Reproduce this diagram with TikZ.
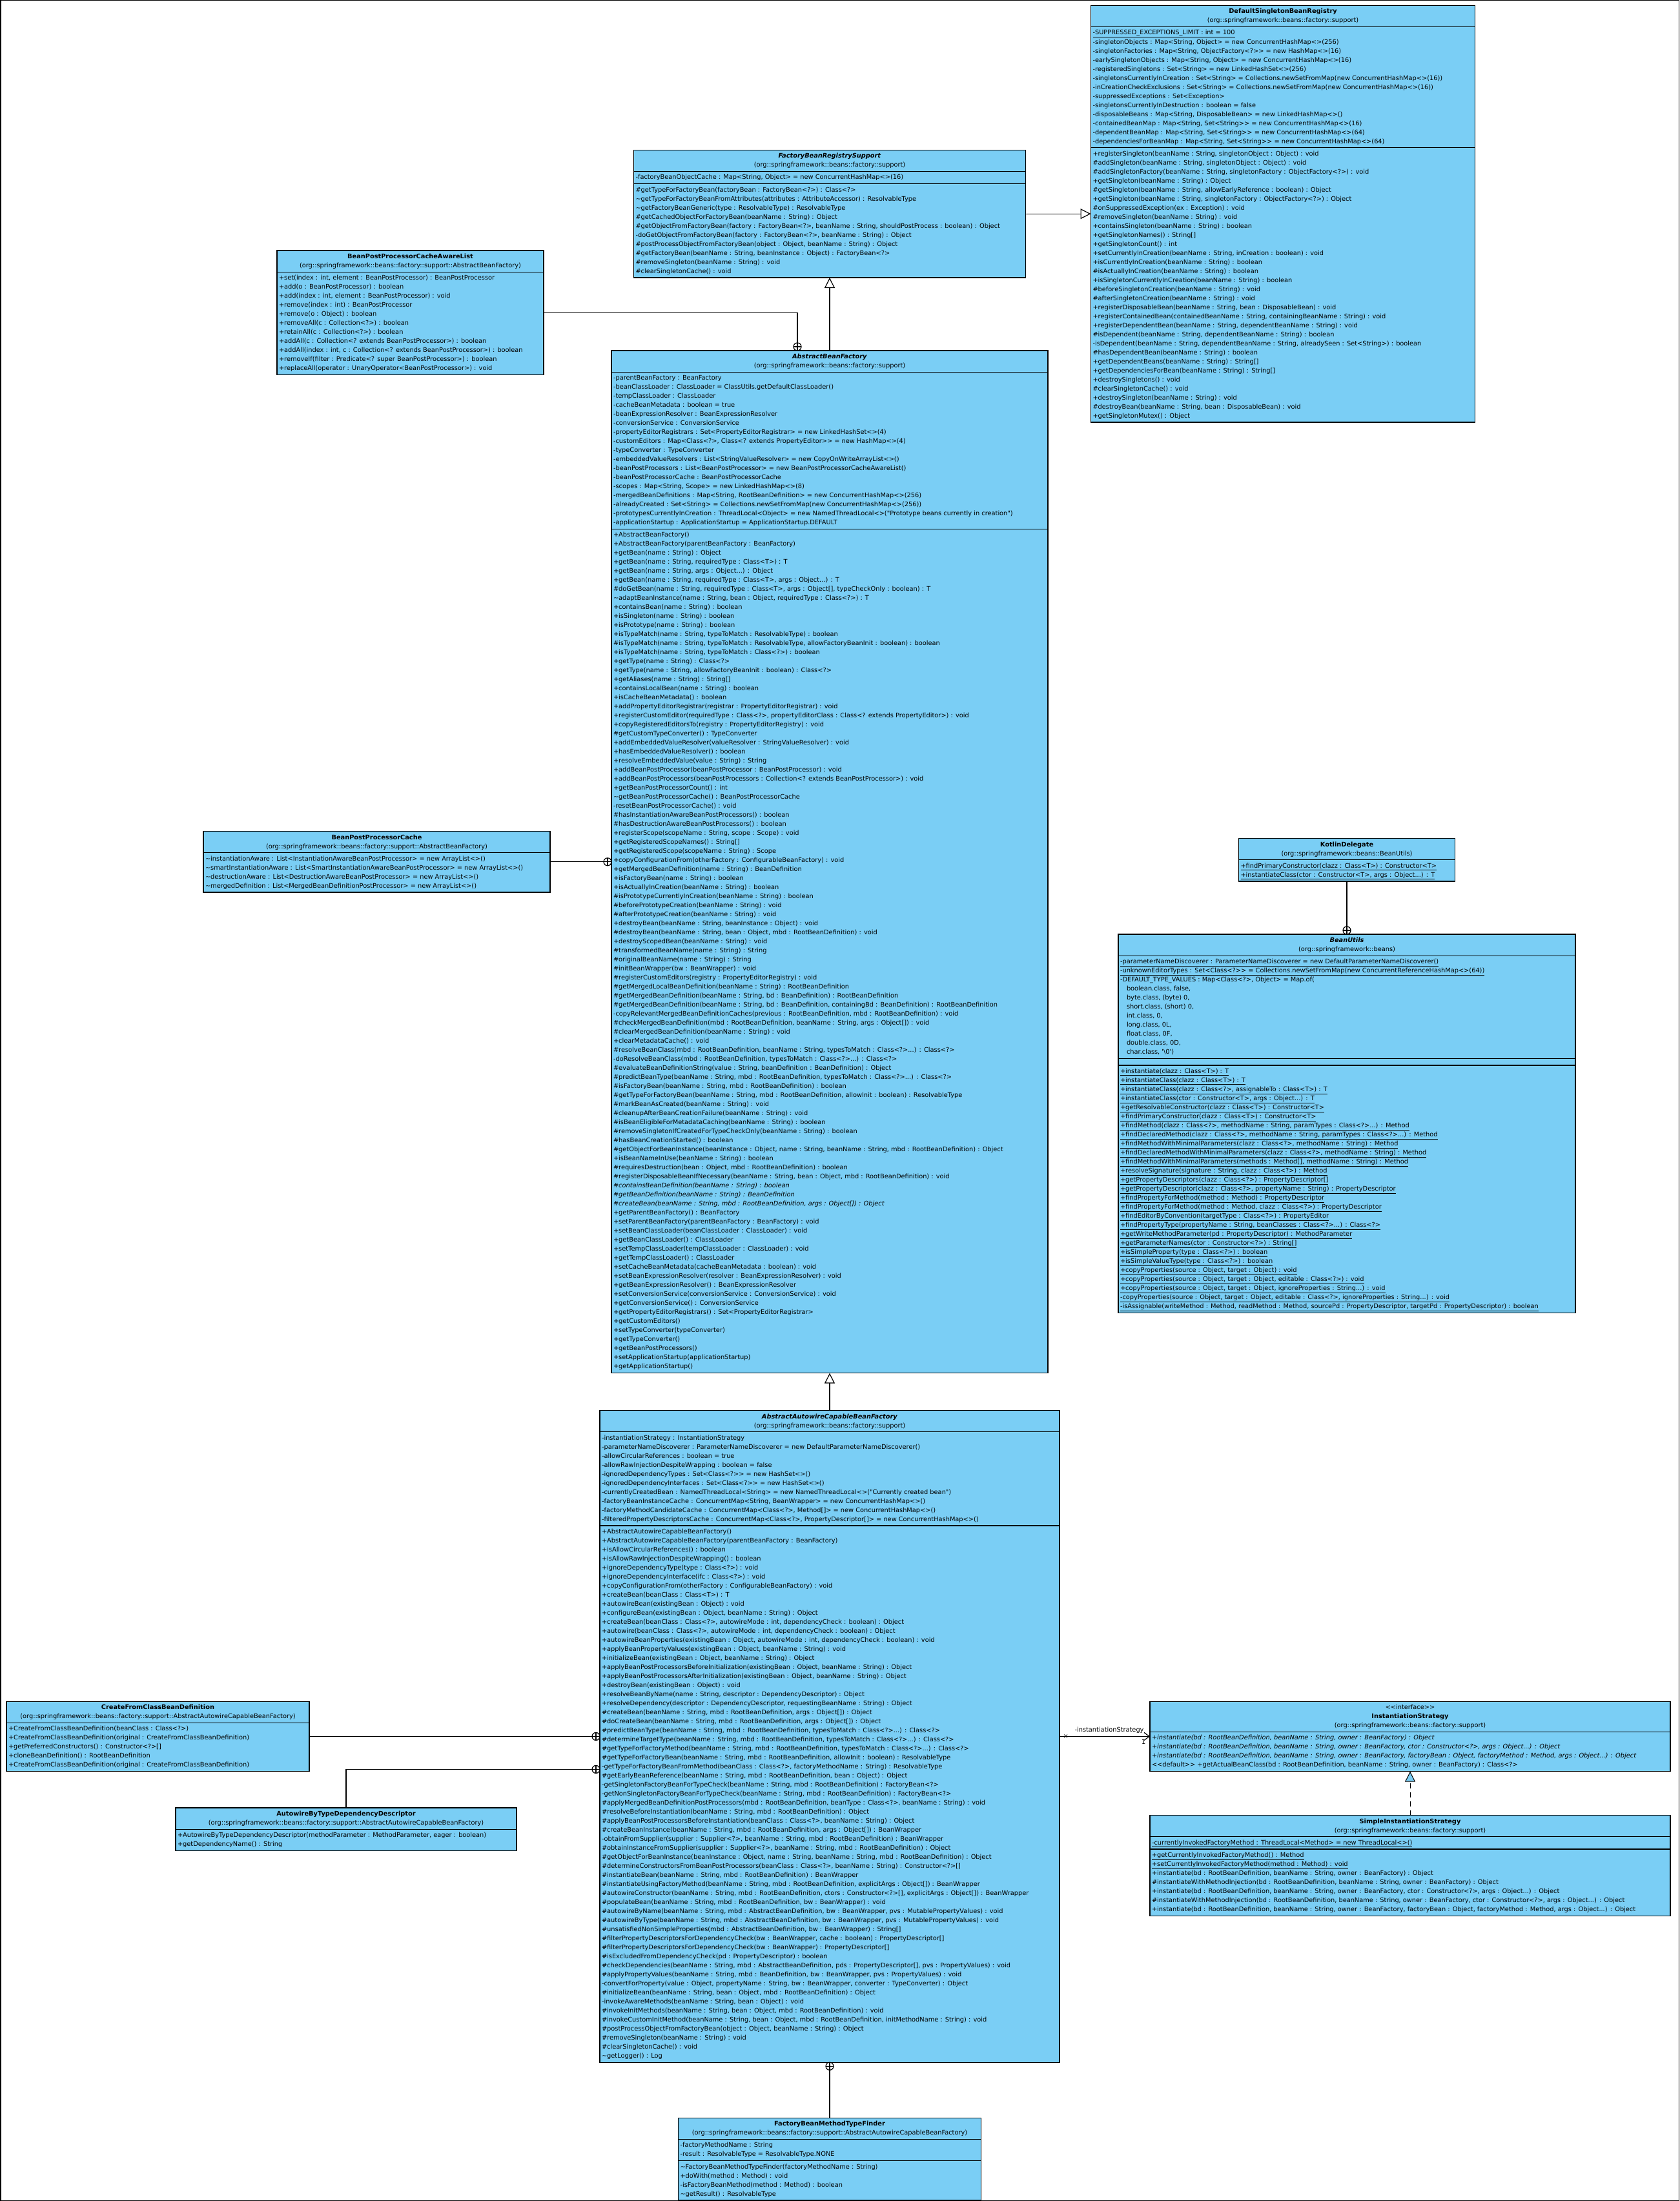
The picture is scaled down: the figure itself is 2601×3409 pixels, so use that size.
\documentclass[tikz,border=0pt]{standalone}
\usepackage{fontspec}
\setmainfont{DejaVu Sans}[Ligatures=TeXOff]
\usetikzlibrary{arrows.meta, positioning, shapes.multipart, decorations.markings}

\definecolor{classblue}{RGB}{122,206,245}

\newcommand{\classhead}[2]{\begin{tabular}{@{}c@{}}#1\\#2\end{tabular}}
\newcommand{\members}[1]{\begin{tabular}{@{}l@{}}#1\end{tabular}}

\begin{document}
\begin{tikzpicture}[
    x=1pt, y=-1pt,
    font=\fontsize{9.8}{14}\selectfont,
    classst/.style={rectangle split, rectangle split parts=3,
                    rectangle split part align={center,left,left,left},
                    rectangle split empty part height=0pt,
                    rectangle split empty part depth=0pt,
                    draw=black, line width=1.2pt, fill=classblue,
                    inner xsep=3pt, inner ysep=2pt, outer sep=0pt},
    twost/.style={classst, rectangle split parts=2},
    genarr/.style={line width=1.2pt, -{Triangle[length=16pt, width=16pt, fill=white]}},
    realarr/.style={line width=1pt, dash pattern=on 8pt off 6pt,
                    -{Triangle[length=16pt, width=16pt, fill=classblue]}},
    assocarr/.style={line width=1.2pt, -{Straight Barb[length=8pt, width=12pt]}},
    nestarr/.style={line width=1.2pt, postaction={decorate, decoration={markings,
        mark=at position 1 with {\draw[line width=1.2pt, fill=white] (-6pt,0) circle (6pt);
                                 \draw[line width=1.2pt] (-12pt,0) -- (0pt,0) (-6pt,-6pt) -- (-6pt,6pt);}}}},
  ]
  \useasboundingbox (0,0) rectangle (2601,3409);
  \draw[line width=1.5pt] (0.75,0.75) rectangle (2600.25,3408.25);

  %% Centre column
  \node[classst, minimum width=676pt, anchor=north west] (absfactory) at (947,543) {%
    \classhead{\textbf{\textit{AbstractBeanFactory}}}{(org::springframework::beans::factory::support)}
    \nodepart{two}\members{%
      -parentBeanFactory : BeanFactory\\
      -beanClassLoader : ClassLoader = ClassUtils.getDefaultClassLoader()\\
      -tempClassLoader : ClassLoader\\
      -cacheBeanMetadata : boolean = true\\
      -beanExpressionResolver : BeanExpressionResolver\\
      -conversionService : ConversionService\\
      -propertyEditorRegistrars : Set<PropertyEditorRegistrar> = new LinkedHashSet<>(4)\\
      -customEditors : Map<Class<?>, Class<? extends PropertyEditor>> = new HashMap<>(4)\\
      -typeConverter : TypeConverter\\
      -embeddedValueResolvers : List<StringValueResolver> = new CopyOnWriteArrayList<>()\\
      -beanPostProcessors : List<BeanPostProcessor> = new BeanPostProcessorCacheAwareList()\\
      -beanPostProcessorCache : BeanPostProcessorCache\\
      -scopes : Map<String, Scope> = new LinkedHashMap<>(8)\\
      -mergedBeanDefinitions : Map<String, RootBeanDefinition> = new ConcurrentHashMap<>(256)\\
      -alreadyCreated : Set<String> = Collections.newSetFromMap(new ConcurrentHashMap<>(256))\\
      -prototypesCurrentlyInCreation : ThreadLocal<Object> = new NamedThreadLocal<>("Prototype beans currently in creation")\\
      -applicationStartup : ApplicationStartup = ApplicationStartup.DEFAULT}
    \nodepart{three}\members{%
      +AbstractBeanFactory()\\
      +AbstractBeanFactory(parentBeanFactory : BeanFactory)\\
      +getBean(name : String) : Object\\
      +getBean(name : String, requiredType : Class<T>) : T\\
      +getBean(name : String, args : Object...) : Object\\
      +getBean(name : String, requiredType : Class<T>, args : Object...) : T\\
      \#doGetBean(name : String, requiredType : Class<T>, args : Object[], typeCheckOnly : boolean) : T\\
      \textasciitilde adaptBeanInstance(name : String, bean : Object, requiredType : Class<?>) : T\\
      +containsBean(name : String) : boolean\\
      +isSingleton(name : String) : boolean\\
      +isPrototype(name : String) : boolean\\
      +isTypeMatch(name : String, typeToMatch : ResolvableType) : boolean\\
      \#isTypeMatch(name : String, typeToMatch : ResolvableType, allowFactoryBeanInit : boolean) : boolean\\
      +isTypeMatch(name : String, typeToMatch : Class<?>) : boolean\\
      +getType(name : String) : Class<?>\\
      +getType(name : String, allowFactoryBeanInit : boolean) : Class<?>\\
      +getAliases(name : String) : String[]\\
      +containsLocalBean(name : String) : boolean\\
      +isCacheBeanMetadata() : boolean\\
      +addPropertyEditorRegistrar(registrar : PropertyEditorRegistrar) : void\\
      +registerCustomEditor(requiredType : Class<?>, propertyEditorClass : Class<? extends PropertyEditor>) : void\\
      +copyRegisteredEditorsTo(registry : PropertyEditorRegistry) : void\\
      \#getCustomTypeConverter() : TypeConverter\\
      +addEmbeddedValueResolver(valueResolver : StringValueResolver) : void\\
      +hasEmbeddedValueResolver() : boolean\\
      +resolveEmbeddedValue(value : String) : String\\
      +addBeanPostProcessor(beanPostProcessor : BeanPostProcessor) : void\\
      +addBeanPostProcessors(beanPostProcessors : Collection<? extends BeanPostProcessor>) : void\\
      +getBeanPostProcessorCount() : int\\
      \textasciitilde getBeanPostProcessorCache() : BeanPostProcessorCache\\
      -resetBeanPostProcessorCache() : void\\
      \#hasInstantiationAwareBeanPostProcessors() : boolean\\
      \#hasDestructionAwareBeanPostProcessors() : boolean\\
      +registerScope(scopeName : String, scope : Scope) : void\\
      +getRegisteredScopeNames() : String[]\\
      +getRegisteredScope(scopeName : String) : Scope\\
      +copyConfigurationFrom(otherFactory : ConfigurableBeanFactory) : void\\
      +getMergedBeanDefinition(name : String) : BeanDefinition\\
      +isFactoryBean(name : String) : boolean\\
      +isActuallyInCreation(beanName : String) : boolean\\
      \#isPrototypeCurrentlyInCreation(beanName : String) : boolean\\
      \#beforePrototypeCreation(beanName : String) : void\\
      \#afterPrototypeCreation(beanName : String) : void\\
      +destroyBean(beanName : String, beanInstance : Object) : void\\
      \#destroyBean(beanName : String, bean : Object, mbd : RootBeanDefinition) : void\\
      +destroyScopedBean(beanName : String) : void\\
      \#transformedBeanName(name : String) : String\\
      \#originalBeanName(name : String) : String\\
      \#initBeanWrapper(bw : BeanWrapper) : void\\
      \#registerCustomEditors(registry : PropertyEditorRegistry) : void\\
      \#getMergedLocalBeanDefinition(beanName : String) : RootBeanDefinition\\
      \#getMergedBeanDefinition(beanName : String, bd : BeanDefinition) : RootBeanDefinition\\
      \#getMergedBeanDefinition(beanName : String, bd : BeanDefinition, containingBd : BeanDefinition) : RootBeanDefinition\\
      -copyRelevantMergedBeanDefinitionCaches(previous : RootBeanDefinition, mbd : RootBeanDefinition) : void\\
      \#checkMergedBeanDefinition(mbd : RootBeanDefinition, beanName : String, args : Object[]) : void\\
      \#clearMergedBeanDefinition(beanName : String) : void\\
      +clearMetadataCache() : void\\
      \#resolveBeanClass(mbd : RootBeanDefinition, beanName : String, typesToMatch : Class<?>...) : Class<?>\\
      -doResolveBeanClass(mbd : RootBeanDefinition, typesToMatch : Class<?>...) : Class<?>\\
      \#evaluateBeanDefinitionString(value : String, beanDefinition : BeanDefinition) : Object\\
      \#predictBeanType(beanName : String, mbd : RootBeanDefinition, typesToMatch : Class<?>...) : Class<?>\\
      \#isFactoryBean(beanName : String, mbd : RootBeanDefinition) : boolean\\
      \#getTypeForFactoryBean(beanName : String, mbd : RootBeanDefinition, allowInit : boolean) : ResolvableType\\
      \#markBeanAsCreated(beanName : String) : void\\
      \#cleanupAfterBeanCreationFailure(beanName : String) : void\\
      \#isBeanEligibleForMetadataCaching(beanName : String) : boolean\\
      \#removeSingletonIfCreatedForTypeCheckOnly(beanName : String) : boolean\\
      \#hasBeanCreationStarted() : boolean\\
      \#getObjectForBeanInstance(beanInstance : Object, name : String, beanName : String, mbd : RootBeanDefinition) : Object\\
      +isBeanNameInUse(beanName : String) : boolean\\
      \#requiresDestruction(bean : Object, mbd : RootBeanDefinition) : boolean\\
      \#registerDisposableBeanIfNecessary(beanName : String, bean : Object, mbd : RootBeanDefinition) : void\\
      \textit{\#containsBeanDefinition(beanName : String) : boolean}\\
      \textit{\#getBeanDefinition(beanName : String) : BeanDefinition}\\
      \textit{\#createBean(beanName : String, mbd : RootBeanDefinition, args : Object[]) : Object}\\
      +getParentBeanFactory() : BeanFactory\\
      +setParentBeanFactory(parentBeanFactory : BeanFactory) : void\\
      +setBeanClassLoader(beanClassLoader : ClassLoader) : void\\
      +getBeanClassLoader() : ClassLoader\\
      +setTempClassLoader(tempClassLoader : ClassLoader) : void\\
      +getTempClassLoader() : ClassLoader\\
      +setCacheBeanMetadata(cacheBeanMetadata : boolean) : void\\
      +setBeanExpressionResolver(resolver : BeanExpressionResolver) : void\\
      +getBeanExpressionResolver() : BeanExpressionResolver\\
      +setConversionService(conversionService : ConversionService) : void\\
      +getConversionService() : ConversionService\\
      +getPropertyEditorRegistrars() : Set<PropertyEditorRegistrar>\\
      +getCustomEditors()\\
      +setTypeConverter(typeConverter)\\
      +getTypeConverter()\\
      +getBeanPostProcessors()\\
      +setApplicationStartup(applicationStartup)\\
      +getApplicationStartup()}};

  \node[classst, minimum width=607pt, above=113pt of absfactory] (fbsupport) {%
    \classhead{\textbf{\textit{FactoryBeanRegistrySupport}}}{(org::springframework::beans::factory::support)}
    \nodepart{two}\members{%
      -factoryBeanObjectCache : Map<String, Object> = new ConcurrentHashMap<>(16)}
    \nodepart{three}\members{%
      \#getTypeForFactoryBean(factoryBean : FactoryBean<?>) : Class<?>\\
      \textasciitilde getTypeForFactoryBeanFromAttributes(attributes : AttributeAccessor) : ResolvableType\\
      \textasciitilde getFactoryBeanGeneric(type : ResolvableType) : ResolvableType\\
      \#getCachedObjectForFactoryBean(beanName : String) : Object\\
      \#getObjectFromFactoryBean(factory : FactoryBean<?>, beanName : String, shouldPostProcess : boolean) : Object\\
      -doGetObjectFromFactoryBean(factory : FactoryBean<?>, beanName : String) : Object\\
      \#postProcessObjectFromFactoryBean(object : Object, beanName : String) : Object\\
      \#getFactoryBean(beanName : String, beanInstance : Object) : FactoryBean<?>\\
      \#removeSingleton(beanName : String) : void\\
      \#clearSingletonCache() : void}};

  \node[classst, minimum width=595pt, right=101pt of fbsupport] (registry) {%
    \classhead{\textbf{DefaultSingletonBeanRegistry}}{(org::springframework::beans::factory::support)}
    \nodepart{two}\members{%
      \underline{-SUPPRESSED\_EXCEPTIONS\_LIMIT : int = 100}\\
      -singletonObjects : Map<String, Object> = new ConcurrentHashMap<>(256)\\
      -singletonFactories : Map<String, ObjectFactory<?>> = new HashMap<>(16)\\
      -earlySingletonObjects : Map<String, Object> = new ConcurrentHashMap<>(16)\\
      -registeredSingletons : Set<String> = new LinkedHashSet<>(256)\\
      -singletonsCurrentlyInCreation : Set<String> = Collections.newSetFromMap(new ConcurrentHashMap<>(16))\\
      -inCreationCheckExclusions : Set<String> = Collections.newSetFromMap(new ConcurrentHashMap<>(16))\\
      -suppressedExceptions : Set<Exception>\\
      -singletonsCurrentlyInDestruction : boolean = false\\
      -disposableBeans : Map<String, DisposableBean> = new LinkedHashMap<>()\\
      -containedBeanMap : Map<String, Set<String>> = new ConcurrentHashMap<>(16)\\
      -dependentBeanMap : Map<String, Set<String>> = new ConcurrentHashMap<>(64)\\
      -dependenciesForBeanMap : Map<String, Set<String>> = new ConcurrentHashMap<>(64)}
    \nodepart{three}\members{%
      +registerSingleton(beanName : String, singletonObject : Object) : void\\
      \#addSingleton(beanName : String, singletonObject : Object) : void\\
      \#addSingletonFactory(beanName : String, singletonFactory : ObjectFactory<?>) : void\\
      +getSingleton(beanName : String) : Object\\
      \#getSingleton(beanName : String, allowEarlyReference : boolean) : Object\\
      +getSingleton(beanName : String, singletonFactory : ObjectFactory<?>) : Object\\
      \#onSuppressedException(ex : Exception) : void\\
      \#removeSingleton(beanName : String) : void\\
      +containsSingleton(beanName : String) : boolean\\
      +getSingletonNames() : String[]\\
      +getSingletonCount() : int\\
      +setCurrentlyInCreation(beanName : String, inCreation : boolean) : void\\
      +isCurrentlyInCreation(beanName : String) : boolean\\
      \#isActuallyInCreation(beanName : String) : boolean\\
      +isSingletonCurrentlyInCreation(beanName : String) : boolean\\
      \#beforeSingletonCreation(beanName : String) : void\\
      \#afterSingletonCreation(beanName : String) : void\\
      +registerDisposableBean(beanName : String, bean : DisposableBean) : void\\
      +registerContainedBean(containedBeanName : String, containingBeanName : String) : void\\
      +registerDependentBean(beanName : String, dependentBeanName : String) : void\\
      \#isDependent(beanName : String, dependentBeanName : String) : boolean\\
      -isDependent(beanName : String, dependentBeanName : String, alreadySeen : Set<String>) : boolean\\
      \#hasDependentBean(beanName : String) : boolean\\
      +getDependentBeans(beanName : String) : String[]\\
      +getDependenciesForBean(beanName : String) : String[]\\
      +destroySingletons() : void\\
      \#clearSingletonCache() : void\\
      +destroySingleton(beanName : String) : void\\
      \#destroyBean(beanName : String, bean : DisposableBean) : void\\
      +getSingletonMutex() : Object}};

  \node[twost, minimum width=413pt, anchor=north west] (cachelist) at (429,388) {%
    \classhead{\textbf{BeanPostProcessorCacheAwareList}}{(org::springframework::beans::factory::support::AbstractBeanFactory)}
    \nodepart{two}\members{%
      +set(index : int, element : BeanPostProcessor) : BeanPostProcessor\\
      +add(o : BeanPostProcessor) : boolean\\
      +add(index : int, element : BeanPostProcessor) : void\\
      +remove(index : int) : BeanPostProcessor\\
      +remove(o : Object) : boolean\\
      +removeAll(c : Collection<?>) : boolean\\
      +retainAll(c : Collection<?>) : boolean\\
      +addAll(c : Collection<? extends BeanPostProcessor>) : boolean\\
      +addAll(index : int, c : Collection<? extends BeanPostProcessor>) : boolean\\
      +removeIf(filter : Predicate<? super BeanPostProcessor>) : boolean\\
      +replaceAll(operator : UnaryOperator<BeanPostProcessor>) : void}};

  \node[twost, minimum width=537pt, left=95pt of absfactory] (ppcache) {%
    \classhead{\textbf{BeanPostProcessorCache}}{(org::springframework::beans::factory::support::AbstractBeanFactory)}
    \nodepart{two}\members{%
      \textasciitilde instantiationAware : List<InstantiationAwareBeanPostProcessor> = new ArrayList<>()\\
      \textasciitilde smartInstantiationAware : List<SmartInstantiationAwareBeanPostProcessor> = new ArrayList<>()\\
      \textasciitilde destructionAware : List<DestructionAwareBeanPostProcessor> = new ArrayList<>()\\
      \textasciitilde mergedDefinition : List<MergedBeanDefinitionPostProcessor> = new ArrayList<>()}};

  %% Right column
  \node[classst, rectangle split parts=4, minimum width=708pt, anchor=north west] (beanutils) at (1732,1447) {%
    \classhead{\textbf{\textit{BeanUtils}}}{(org::springframework::beans)}
    \nodepart{two}\members{%
      \underline{-parameterNameDiscoverer : ParameterNameDiscoverer = new DefaultParameterNameDiscoverer()}\\
      \underline{-unknownEditorTypes : Set<Class<?>> = Collections.newSetFromMap(new ConcurrentReferenceHashMap<>(64))}\\
      -DEFAULT\_TYPE\_VALUES : Map<Class<?>, Object> = Map.of(\\
      \hspace{10pt}boolean.class, false,\\
      \hspace{10pt}byte.class, (byte) 0,\\
      \hspace{10pt}short.class, (short) 0,\\
      \hspace{10pt}int.class, 0,\\
      \hspace{10pt}long.class, 0L,\\
      \hspace{10pt}float.class, 0F,\\
      \hspace{10pt}double.class, 0D,\\
      \hspace{10pt}char.class, '\textbackslash 0')}
    \nodepart{three}
    \nodepart{four}\members{%
      \underline{+instantiate(clazz : Class<T>) : T}\\
      \underline{+instantiateClass(clazz : Class<T>) : T}\\
      \underline{+instantiateClass(clazz : Class<?>, assignableTo : Class<T>) : T}\\
      \underline{+instantiateClass(ctor : Constructor<T>, args : Object...) : T}\\
      \underline{+getResolvableConstructor(clazz : Class<T>) : Constructor<T>}\\
      \underline{+findPrimaryConstructor(clazz : Class<T>) : Constructor<T>}\\
      \underline{+findMethod(clazz : Class<?>, methodName : String, paramTypes : Class<?>...) : Method}\\
      \underline{+findDeclaredMethod(clazz : Class<?>, methodName : String, paramTypes : Class<?>...) : Method}\\
      \underline{+findMethodWithMinimalParameters(clazz : Class<?>, methodName : String) : Method}\\
      \underline{+findDeclaredMethodWithMinimalParameters(clazz : Class<?>, methodName : String) : Method}\\
      \underline{+findMethodWithMinimalParameters(methods : Method[], methodName : String) : Method}\\
      \underline{+resolveSignature(signature : String, clazz : Class<?>) : Method}\\
      \underline{+getPropertyDescriptors(clazz : Class<?>) : PropertyDescriptor[]}\\
      \underline{+getPropertyDescriptor(clazz : Class<?>, propertyName : String) : PropertyDescriptor}\\
      \underline{+findPropertyForMethod(method : Method) : PropertyDescriptor}\\
      \underline{+findPropertyForMethod(method : Method, clazz : Class<?>) : PropertyDescriptor}\\
      \underline{+findEditorByConvention(targetType : Class<?>) : PropertyEditor}\\
      \underline{+findPropertyType(propertyName : String, beanClasses : Class<?>...) : Class<?>}\\
      \underline{+getWriteMethodParameter(pd : PropertyDescriptor) : MethodParameter}\\
      \underline{+getParameterNames(ctor : Constructor<?>) : String[]}\\
      \underline{+isSimpleProperty(type : Class<?>) : boolean}\\
      \underline{+isSimpleValueType(type : Class<?>) : boolean}\\
      \underline{+copyProperties(source : Object, target : Object) : void}\\
      \underline{+copyProperties(source : Object, target : Object, editable : Class<?>) : void}\\
      \underline{+copyProperties(source : Object, target : Object, ignoreProperties : String...) : void}\\
      \underline{-copyProperties(source : Object, target : Object, editable : Class<?>, ignoreProperties : String...) : void}\\
      \underline{-isAssignable(writeMethod : Method, readMethod : Method, sourcePd : PropertyDescriptor, targetPd : PropertyDescriptor) : boolean}}};

  \node[twost, minimum width=335pt, above=82pt of beanutils] (kotlin) {%
    \classhead{\textbf{KotlinDelegate}}{(org::springframework::beans::BeanUtils)}
    \nodepart{two}\members{%
      \underline{+findPrimaryConstructor(clazz : Class<T>) : Constructor<T>}\\
      \underline{+instantiateClass(ctor : Constructor<T>, args : Object...) : T}}};

  %% Lower part
  \node[classst, minimum width=712pt, below=58pt of absfactory] (autowire) {%
    \classhead{\textbf{\textit{AbstractAutowireCapableBeanFactory}}}{(org::springframework::beans::factory::support)}
    \nodepart{two}\members{%
      -instantiationStrategy : InstantiationStrategy\\
      -parameterNameDiscoverer : ParameterNameDiscoverer = new DefaultParameterNameDiscoverer()\\
      -allowCircularReferences : boolean = true\\
      -allowRawInjectionDespiteWrapping : boolean = false\\
      -ignoredDependencyTypes : Set<Class<?>> = new HashSet<>()\\
      -ignoredDependencyInterfaces : Set<Class<?>> = new HashSet<>()\\
      -currentlyCreatedBean : NamedThreadLocal<String> = new NamedThreadLocal<>("Currently created bean")\\
      -factoryBeanInstanceCache : ConcurrentMap<String, BeanWrapper> = new ConcurrentHashMap<>()\\
      -factoryMethodCandidateCache : ConcurrentMap<Class<?>, Method[]> = new ConcurrentHashMap<>()\\
      -filteredPropertyDescriptorsCache : ConcurrentMap<Class<?>, PropertyDescriptor[]> = new ConcurrentHashMap<>()}
    \nodepart{three}\members{%
      +AbstractAutowireCapableBeanFactory()\\
      +AbstractAutowireCapableBeanFactory(parentBeanFactory : BeanFactory)\\
      +isAllowCircularReferences() : boolean\\
      +isAllowRawInjectionDespiteWrapping() : boolean\\
      +ignoreDependencyType(type : Class<?>) : void\\
      +ignoreDependencyInterface(ifc : Class<?>) : void\\
      +copyConfigurationFrom(otherFactory : ConfigurableBeanFactory) : void\\
      +createBean(beanClass : Class<T>) : T\\
      +autowireBean(existingBean : Object) : void\\
      +configureBean(existingBean : Object, beanName : String) : Object\\
      +createBean(beanClass : Class<?>, autowireMode : int, dependencyCheck : boolean) : Object\\
      +autowire(beanClass : Class<?>, autowireMode : int, dependencyCheck : boolean) : Object\\
      +autowireBeanProperties(existingBean : Object, autowireMode : int, dependencyCheck : boolean) : void\\
      +applyBeanPropertyValues(existingBean : Object, beanName : String) : void\\
      +initializeBean(existingBean : Object, beanName : String) : Object\\
      +applyBeanPostProcessorsBeforeInitialization(existingBean : Object, beanName : String) : Object\\
      +applyBeanPostProcessorsAfterInitialization(existingBean : Object, beanName : String) : Object\\
      +destroyBean(existingBean : Object) : void\\
      +resolveBeanByName(name : String, descriptor : DependencyDescriptor) : Object\\
      +resolveDependency(descriptor : DependencyDescriptor, requestingBeanName : String) : Object\\
      \#createBean(beanName : String, mbd : RootBeanDefinition, args : Object[]) : Object\\
      \#doCreateBean(beanName : String, mbd : RootBeanDefinition, args : Object[]) : Object\\
      \#predictBeanType(beanName : String, mbd : RootBeanDefinition, typesToMatch : Class<?>...) : Class<?>\\
      \#determineTargetType(beanName : String, mbd : RootBeanDefinition, typesToMatch : Class<?>...) : Class<?>\\
      \#getTypeForFactoryMethod(beanName : String, mbd : RootBeanDefinition, typesToMatch : Class<?>...) : Class<?>\\
      \#getTypeForFactoryBean(beanName : String, mbd : RootBeanDefinition, allowInit : boolean) : ResolvableType\\
      -getTypeForFactoryBeanFromMethod(beanClass : Class<?>, factoryMethodName : String) : ResolvableType\\
      \#getEarlyBeanReference(beanName : String, mbd : RootBeanDefinition, bean : Object) : Object\\
      -getSingletonFactoryBeanForTypeCheck(beanName : String, mbd : RootBeanDefinition) : FactoryBean<?>\\
      -getNonSingletonFactoryBeanForTypeCheck(beanName : String, mbd : RootBeanDefinition) : FactoryBean<?>\\
      \#applyMergedBeanDefinitionPostProcessors(mbd : RootBeanDefinition, beanType : Class<?>, beanName : String) : void\\
      \#resolveBeforeInstantiation(beanName : String, mbd : RootBeanDefinition) : Object\\
      \#applyBeanPostProcessorsBeforeInstantiation(beanClass : Class<?>, beanName : String) : Object\\
      \#createBeanInstance(beanName : String, mbd : RootBeanDefinition, args : Object[]) : BeanWrapper\\
      -obtainFromSupplier(supplier : Supplier<?>, beanName : String, mbd : RootBeanDefinition) : BeanWrapper\\
      \#obtainInstanceFromSupplier(supplier : Supplier<?>, beanName : String, mbd : RootBeanDefinition) : Object\\
      \#getObjectForBeanInstance(beanInstance : Object, name : String, beanName : String, mbd : RootBeanDefinition) : Object\\
      \#determineConstructorsFromBeanPostProcessors(beanClass : Class<?>, beanName : String) : Constructor<?>[]\\
      \#instantiateBean(beanName : String, mbd : RootBeanDefinition) : BeanWrapper\\
      \#instantiateUsingFactoryMethod(beanName : String, mbd : RootBeanDefinition, explicitArgs : Object[]) : BeanWrapper\\
      \#autowireConstructor(beanName : String, mbd : RootBeanDefinition, ctors : Constructor<?>[], explicitArgs : Object[]) : BeanWrapper\\
      \#populateBean(beanName : String, mbd : RootBeanDefinition, bw : BeanWrapper) : void\\
      \#autowireByName(beanName : String, mbd : AbstractBeanDefinition, bw : BeanWrapper, pvs : MutablePropertyValues) : void\\
      \#autowireByType(beanName : String, mbd : AbstractBeanDefinition, bw : BeanWrapper, pvs : MutablePropertyValues) : void\\
      \#unsatisfiedNonSimpleProperties(mbd : AbstractBeanDefinition, bw : BeanWrapper) : String[]\\
      \#filterPropertyDescriptorsForDependencyCheck(bw : BeanWrapper, cache : boolean) : PropertyDescriptor[]\\
      \#filterPropertyDescriptorsForDependencyCheck(bw : BeanWrapper) : PropertyDescriptor[]\\
      \#isExcludedFromDependencyCheck(pd : PropertyDescriptor) : boolean\\
      \#checkDependencies(beanName : String, mbd : AbstractBeanDefinition, pds : PropertyDescriptor[], pvs : PropertyValues) : void\\
      \#applyPropertyValues(beanName : String, mbd : BeanDefinition, bw : BeanWrapper, pvs : PropertyValues) : void\\
      -convertForProperty(value : Object, propertyName : String, bw : BeanWrapper, converter : TypeConverter) : Object\\
      \#initializeBean(beanName : String, bean : Object, mbd : RootBeanDefinition) : Object\\
      -invokeAwareMethods(beanName : String, bean : Object) : void\\
      \#invokeInitMethods(beanName : String, bean : Object, mbd : RootBeanDefinition) : void\\
      \#invokeCustomInitMethod(beanName : String, bean : Object, mbd : RootBeanDefinition, initMethodName : String) : void\\
      \#postProcessObjectFromFactoryBean(object : Object, beanName : String) : Object\\
      \#removeSingleton(beanName : String) : void\\
      \#clearSingletonCache() : void\\
      \textasciitilde getLogger() : Log}};

  \node[classst, minimum width=469pt, below=86pt of autowire] (typefinder) {%
    \classhead{\textbf{FactoryBeanMethodTypeFinder}}{(org::springframework::beans::factory::support::AbstractAutowireCapableBeanFactory)}
    \nodepart{two}\members{%
      -factoryMethodName : String\\
      -result : ResolvableType = ResolvableType.NONE}
    \nodepart{three}\members{%
      \textasciitilde FactoryBeanMethodTypeFinder(factoryMethodName : String)\\
      +doWith(method : Method) : void\\
      -isFactoryBeanMethod(method : Method) : boolean\\
      \textasciitilde getResult() : ResolvableType}};

  \node[twost, minimum width=469pt, left=450pt of autowire] (fromclass) {%
    \classhead{\textbf{CreateFromClassBeanDefinition}}{(org::springframework::beans::factory::support::AbstractAutowireCapableBeanFactory)}
    \nodepart{two}\members{%
      +CreateFromClassBeanDefinition(beanClass : Class<?>)\\
      +CreateFromClassBeanDefinition(original : CreateFromClassBeanDefinition)\\
      +getPreferredConstructors() : Constructor<?>[]\\
      +cloneBeanDefinition() : RootBeanDefinition\\
      +CreateFromClassBeanDefinition(original : CreateFromClassBeanDefinition)}};

  \node[twost, minimum width=528pt, anchor=north west] (bytype) at (272,2800) {%
    \classhead{\textbf{AutowireByTypeDependencyDescriptor}}{(org::springframework::beans::factory::support::AbstractAutowireCapableBeanFactory)}
    \nodepart{two}\members{%
      +AutowireByTypeDependencyDescriptor(methodParameter : MethodParameter, eager : boolean)\\
      +getDependencyName() : String}};

  \node[twost, minimum width=806pt, right=140pt of autowire] (strategy) {%
    \begin{tabular}{@{}c@{}}<{}<interface>{}>\\\textbf{InstantiationStrategy}\\(org::springframework::beans::factory::support)\end{tabular}
    \nodepart{two}\members{%
      \textit{+instantiate(bd : RootBeanDefinition, beanName : String, owner : BeanFactory) : Object}\\
      \textit{+instantiate(bd : RootBeanDefinition, beanName : String, owner : BeanFactory, ctor : Constructor<?>, args : Object...) : Object}\\
      \textit{+instantiate(bd : RootBeanDefinition, beanName : String, owner : BeanFactory, factoryBean : Object, factoryMethod : Method, args : Object...) : Object}\\
      <{}<default>{}> +getActualBeanClass(bd : RootBeanDefinition, beanName : String, owner : BeanFactory) : Class<?>}};

  \node[classst, minimum width=806pt, below=68pt of strategy] (simplestrat) {%
    \classhead{\textbf{SimpleInstantiationStrategy}}{(org::springframework::beans::factory::support)}
    \nodepart{two}\members{%
      \underline{-currentlyInvokedFactoryMethod : ThreadLocal<Method> = new ThreadLocal<>()}}
    \nodepart{three}\members{%
      \underline{+getCurrentlyInvokedFactoryMethod() : Method}\\
      \underline{+setCurrentlyInvokedFactoryMethod(method : Method) : void}\\
      +instantiate(bd : RootBeanDefinition, beanName : String, owner : BeanFactory) : Object\\
      \#instantiateWithMethodInjection(bd : RootBeanDefinition, beanName : String, owner : BeanFactory) : Object\\
      +instantiate(bd : RootBeanDefinition, beanName : String, owner : BeanFactory, ctor : Constructor<?>, args : Object...) : Object\\
      \#instantiateWithMethodInjection(bd : RootBeanDefinition, beanName : String, owner : BeanFactory, ctor : Constructor<?>, args : Object...) : Object\\
      +instantiate(bd : RootBeanDefinition, beanName : String, owner : BeanFactory, factoryBean : Object, factoryMethod : Method, args : Object...) : Object}};

  %% Connectors
  \draw[genarr] (fbsupport.east) -- (registry.west);
  \draw[genarr] (absfactory.north) -- (fbsupport.south);
  \draw[genarr] (autowire.north) -- (absfactory.south);
  \draw[realarr] (simplestrat.north) -- (strategy.south);
  \draw[nestarr] (cachelist.east) -| ([xshift=-50pt]absfactory.north);
  \draw[nestarr] (ppcache.east) -- (ppcache.east -| absfactory.west);
  \draw[nestarr] (kotlin.south) -- (beanutils.north);
  \draw[nestarr] (typefinder.north) -- (autowire.south);
  \draw[nestarr] (fromclass.east) -- (fromclass.east -| autowire.west);
  \draw[nestarr] (bytype.north) |- ([yshift=-51pt]autowire.west);
  \draw[assocarr] (strategy.west -| autowire.east) -- (strategy.west)
    node[pos=0.07] {×}
    node[pos=0.55, above=1pt] {-instantiationStrategy}
    node[pos=0.93, below=1pt] {1};
\end{tikzpicture}
\end{document}
